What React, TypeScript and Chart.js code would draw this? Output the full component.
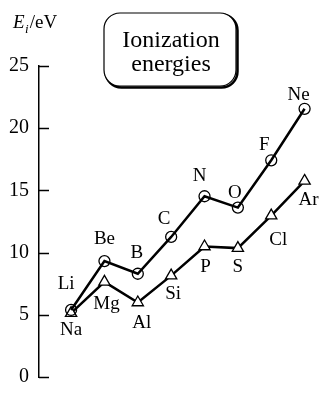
import React, { useEffect, useRef } from "react";
import { Chart, registerables } from "chart.js";
Chart.register(...registerables);

const period2 = ["Li", "Be", "B", "C", "N", "O", "F", "Ne"];
const period2Energies = [5.39, 9.32, 8.3, 11.26, 14.53, 13.62, 17.42, 21.56];
const period3 = ["Na", "Mg", "Al", "Si", "P", "S", "Cl", "Ar"];
const period3Energies = [5.14, 7.65, 5.99, 8.15, 10.49, 10.36, 12.97, 15.76];
const groupIndex = [0, 1, 2, 3, 4, 5, 6, 7];
const yMin = 0;
const yMax = 25;
const yStep = 5;
const titleLines = ["Ionization", "energies"];

// label placement (styling only)
const offsets2 = [[-5, -26], [0, -22], [-1, -21], [-7, -18], [-5, -20], [-3, -15], [-7, -15], [-6, -14]];
const offsets3 = [[0, 17], [2, 22], [4, 21], [2, 18], [1, 21], [0, 19], [7, 24], [4, 19]];

const SERIF = '"Liberation Serif"';

const decorPlugin = {
  id: "decor",
  afterDraw(chart: any) {
    const ctx: CanvasRenderingContext2D = chart.ctx;
    const y = chart.scales.y;
    const area = chart.chartArea;
    ctx.save();
    // inward tick marks
    ctx.strokeStyle = "#000";
    ctx.lineWidth = 1.5;
    y.ticks.forEach((t: any) => {
      const py = Math.round(y.getPixelForValue(t.value)) + 0.5;
      ctx.beginPath();
      ctx.moveTo(area.left, py);
      ctx.lineTo(area.left + 10, py);
      ctx.stroke();
    });
    // element labels
    ctx.fillStyle = "#000";
    ctx.font = `19px ${SERIF}`;
    ctx.textAlign = "center";
    ctx.textBaseline = "middle";
    const labelSets = [
      { names: period2, offs: offsets2 },
      { names: period3, offs: offsets3 },
    ];
    labelSets.forEach((set, di) => {
      const meta = chart.getDatasetMeta(di);
      meta.data.forEach((pt: any, i: number) => {
        ctx.fillText(set.names[i], pt.x + set.offs[i][0], pt.y + set.offs[i][1]);
      });
    });
    // axis title E_i/eV
    ctx.textAlign = "left";
    ctx.textBaseline = "alphabetic";
    ctx.font = `italic 19px ${SERIF}`;
    ctx.fillText("E", 13, 28);
    const eW = ctx.measureText("E").width;
    ctx.font = `italic 13px ${SERIF}`;
    ctx.fillText("i", 13 + eW + 0.5, 33);
    const iW = ctx.measureText("i").width;
    ctx.font = `19px ${SERIF}`;
    ctx.fillText("/eV", 13 + eW + iW + 1.5, 28);
    // title box
    const bx = 104, by = 13, bw = 132, bh = 73, r = 16;
    ctx.lineWidth = 2.5;
    ctx.beginPath();
    ctx.roundRect(bx + 1.5, by + 1.5, bw, bh, r);
    ctx.stroke();
    ctx.fillStyle = "#fff";
    ctx.beginPath();
    ctx.roundRect(bx, by, bw, bh, r);
    ctx.fill();
    ctx.lineWidth = 1.2;
    ctx.stroke();
    ctx.fillStyle = "#000";
    ctx.font = `24px ${SERIF}`;
    ctx.textAlign = "center";
    ctx.fillText(titleLines[0], bx + bw / 2 + 1, 47);
    ctx.fillText(titleLines[1], bx + bw / 2 + 1, 71);
    ctx.restore();
  },
};

export default function App() {
  const ref = useRef<HTMLCanvasElement | null>(null);
  useEffect(() => {
    if (!ref.current) return;
    const chart = new Chart(ref.current, {
      type: "line",
      data: {
        datasets: [
          {
            data: groupIndex.map((x, i) => ({ x, y: period2Energies[i] })),
            borderColor: "#000",
            borderWidth: 2.5,
            pointStyle: "circle",
            pointRadius: 5.5,
            pointBorderWidth: 1.3,
            pointBackgroundColor: "rgba(0,0,0,0)",
            pointBorderColor: "#000",
          },
          {
            data: groupIndex.map((x, i) => ({ x, y: period3Energies[i] })),
            borderColor: "#000",
            borderWidth: 2.5,
            pointStyle: "triangle",
            pointRadius: 6.5,
            pointBorderWidth: 1.3,
            pointBackgroundColor: "#fff",
            pointBorderColor: "#000",
          },
        ],
      },
      options: {
        animation: false,
        responsive: true,
        maintainAspectRatio: false,
        layout: { padding: { top: 66, bottom: 5, left: 0, right: 0 } },
        plugins: { legend: { display: false }, tooltip: { enabled: false } },
        scales: {
          x: { type: "linear", min: -0.962, max: 7.438, display: false },
          y: {
            min: yMin,
            max: yMax,
            ticks: {
              stepSize: yStep,
              color: "#000",
              font: { family: SERIF, size: 20 },
              padding: 10,
            },
            grid: { display: true, drawOnChartArea: false, drawTicks: false },
            border: { color: "#000", width: 1.5 },
            afterFit: (s: any) => {
              s.width = 39;
            },
          },
        },
      },
      plugins: [decorPlugin],
    } as any);
    return () => chart.destroy();
  }, []);
  return (
    <div style={{ position: "fixed", left: 0, top: 0, width: 327, height: 399, background: "#fff" }}>
      <canvas ref={ref} />
    </div>
  );
}
